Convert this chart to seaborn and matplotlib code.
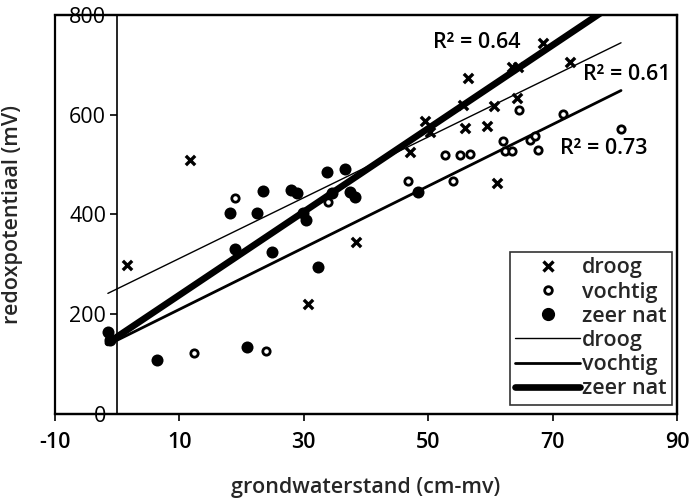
import numpy as np
import pandas as pd
import matplotlib
matplotlib.use("Agg")
import matplotlib.pyplot as plt
from matplotlib.lines import Line2D
from matplotlib.patches import Rectangle
import seaborn as sns

# ---- data ----
droog_x = [1.6, 11.7, 30.7, 38.4, 47.1, 49.5, 50.3, 55.6, 55.9, 56.4, 59.5, 60.5, 61.1, 63.5, 64.5, 64.3, 68.5, 72.8]
droog_y = [299, 509, 220, 345, 525, 588, 565, 619, 573, 674, 577, 617, 463, 695, 695, 633, 744, 706]

vochtig_x = [12.4, 19.0, 24.0, 33.9, 46.8, 52.7, 54.0, 55.1, 56.8, 62.0, 62.3, 63.5, 64.6, 66.4, 67.2, 67.7, 71.7, 81.0]
vochtig_y = [122, 433, 126, 425, 468, 519, 468, 519, 521, 548, 527, 527, 610, 549, 557, 529, 601, 571]

nat_x = [-1.4, -1.2, 6.4, 18.2, 19.0, 20.9, 22.5, 23.5, 24.9, 28.0, 28.9, 29.9, 30.4, 32.3, 33.8, 34.6, 36.7, 37.5, 38.3, 48.4]
nat_y = [165, 148, 108, 403, 331, 134, 403, 447, 325, 449, 443, 403, 389, 295, 485, 443, 491, 445, 435, 445]

# linear trend lines (slope, intercept)
trend_names = ["droog", "vochtig", "zeer nat"]
trend_slope = [6.09, 6.18, 8.35]
trend_intercept = [251, 148, 155]
trend_xrange = [-1.5, 81]
r2_labels = ["R² = 0.61", "R² = 0.73", "R² = 0.64"]
r2_pos_x = [74.9, 71.2, 50.8]
r2_pos_y = [680, 533, 744]

x_ticks = [-10, 10, 30, 50, 70, 90]
y_ticks = [0, 200, 400, 600, 800]

# ---- style ----
sns.set_style("white")
plt.rcParams["font.family"] = ["Open Sans", "DejaVu Sans"]
FS = 15.5
FW = "semibold"

fig = plt.figure(figsize=(6.89, 4.99), dpi=100)
ax = fig.add_axes([55/689, 85/499, 622/689, 399/499])

lw_map = {"droog": 1.0, "vochtig": 2.0, "zeer nat": 4.8}
for name, s, b in zip(trend_names, trend_slope, trend_intercept):
    xs = np.array(trend_xrange, dtype=float)
    df = pd.DataFrame({"x": xs, "y": s * xs + b})
    sns.lineplot(data=df, x="x", y="y", ax=ax, color="black", lw=lw_map[name], zorder=2)

sns.scatterplot(x=droog_x, y=droog_y, ax=ax, marker="x", s=45, color="black", linewidth=2.4, zorder=3)
sns.scatterplot(x=vochtig_x, y=vochtig_y, ax=ax, marker="o", s=28, facecolor="white", edgecolor="black", linewidth=2.0, zorder=3)
sns.scatterplot(x=nat_x, y=nat_y, ax=ax, marker="o", s=75, color="black", edgecolor="black", linewidth=0, zorder=3)

for lab, tx, ty in zip(r2_labels, r2_pos_x, r2_pos_y):
    ax.text(tx, ty, lab, ha="left", va="center", fontsize=FS, fontweight=FW, color="black", zorder=4)

ax.set_xlim(-10, 90)
ax.set_ylim(0, 800)
ax.set_xticks(x_ticks)
ax.set_yticks(y_ticks)
ax.set_xticklabels([str(t) for t in x_ticks], fontweight=FW)
ax.set_yticklabels([str(t) for t in y_ticks], fontweight=FW)

for sp in ["top", "right", "bottom"]:
    ax.spines[sp].set_visible(True)
    ax.spines[sp].set_color("black")
    ax.spines[sp].set_linewidth(1.6)
ax.spines["left"].set_position(("data", 0))
ax.spines["left"].set_color("black")
ax.spines["left"].set_linewidth(1.2)
# outer frame of the plot area
ax.add_patch(Rectangle((0, 0), 1, 1, transform=ax.transAxes, fill=False,
                       edgecolor="black", lw=1.6, zorder=5, clip_on=False))

ax.tick_params(axis="x", direction="out", length=5, width=1.2, labelsize=FS, pad=8, bottom=True, colors="black")
ax.tick_params(axis="y", direction="out", length=5, width=1.2, labelsize=FS, pad=3, left=True, colors="black")

ax.set_xlabel("grondwaterstand (cm-mv)", fontsize=FS, fontweight=FW, labelpad=17)
ax.set_ylabel("")
fig.text(13/689, 1 - 215/499, "redoxpotentiaal (mV)", rotation=90, ha="center", va="center",
         fontsize=FS, fontweight=FW)

handles = [
    Line2D([], [], marker="x", ls="none", color="black", markersize=7, markeredgewidth=2.4),
    Line2D([], [], marker="o", ls="none", markerfacecolor="white", markeredgecolor="black", markersize=5.5, markeredgewidth=2.0),
    Line2D([], [], marker="o", ls="none", color="black", markersize=8.5),
    Line2D([], [], color="black", lw=1.0),
    Line2D([], [], color="black", lw=2.0),
    Line2D([], [], color="black", lw=4.8),
]
labels = ["droog", "vochtig", "zeer nat", "droog", "vochtig", "zeer nat"]
leg = ax.legend(handles, labels, loc="lower right", bbox_to_anchor=(0.992, 0.023),
                prop={"size": FS, "weight": FW}, frameon=True, fancybox=False, handlelength=3.0,
                handletextpad=0.1, labelspacing=0.15, borderpad=0.25, borderaxespad=0)
leg.get_frame().set_edgecolor("black")
leg.get_frame().set_linewidth(1.2)
leg.set_zorder(6)

fig.savefig("out.png", dpi=100)
